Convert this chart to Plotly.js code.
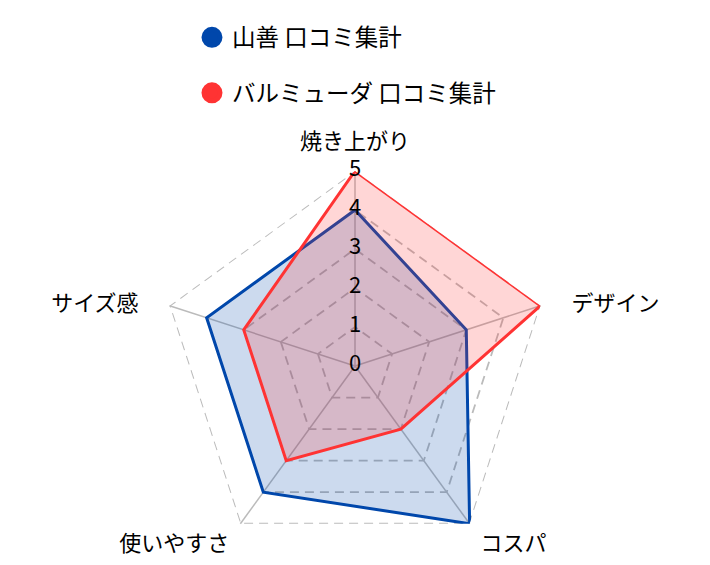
<!DOCTYPE html>
<html>
<head>
<meta charset="utf-8">
<script src="https://cdn.plot.ly/plotly-3.0.1.min.js"></script>
<style>html,body{margin:0;padding:0;background:#fff;}#chart{width:710px;height:565px;}</style>
</head>
<body>
<div id="chart"></div>
<script>
const categories = ["焼き上がり", "デザイン", "コスパ", "使いやすさ", "サイズ感"];
const yamazenValues = [4, 3, 5, 4, 4];
const balmudaValues = [5, 5, 2, 3, 3];
const seriesNames = ["山善 口コミ集計", "バルミューダ 口コミ集計"];
const radialTicks = [0, 1, 2, 3, 4, 5];

const FONT = "Noto Sans CJK JP, DejaVu Sans, sans-serif";
const BLUE = "#0047ab";
const RED = "#ff3333";
const GRID = "#bbbbbb";
const RMAX = radialTicks[radialTicks.length - 1];

// label placement style per category (text side and hidden-marker spacing)
const labelPositions = ["top center", "middle right", "bottom right", "bottom left", "middle left"];
const labelGaps = [24, 48, 16, 16, 48];

function closed(arr) { return arr.concat([arr[0]]); }

const traces = [
  {
    type: "scatterpolar",
    r: closed(categories.map(() => RMAX)),
    theta: closed(categories),
    mode: "lines",
    line: {color: GRID, width: 2, dash: "9px,6px"},
    showlegend: false,
    hoverinfo: "skip",
    cliponaxis: false
  },
  {
    type: "scatterpolar",
    r: closed(yamazenValues),
    theta: closed(categories),
    mode: "lines",
    fill: "toself",
    fillcolor: "rgba(0,71,171,0.2)",
    line: {color: BLUE, width: 3},
    showlegend: false,
    hoverinfo: "skip",
    cliponaxis: false
  },
  {
    type: "scatterpolar",
    r: closed(balmudaValues),
    theta: closed(categories),
    mode: "lines",
    fill: "toself",
    fillcolor: "rgba(255,51,51,0.2)",
    line: {color: RED, width: 3},
    showlegend: false,
    hoverinfo: "skip",
    cliponaxis: false
  },
  {
    type: "scatterpolar",
    r: radialTicks.map(v => Math.max(v, RMAX * 1e-3)),
    theta: radialTicks.map(() => categories[0]),
    mode: "text",
    text: radialTicks.map(String),
    textposition: "middle center",
    textfont: {family: FONT, size: 22, color: "#000"},
    showlegend: false,
    hoverinfo: "skip",
    cliponaxis: false
  },
  {
    type: "scatterpolar",
    r: categories.map(() => RMAX),
    theta: categories,
    mode: "markers+text",
    text: categories,
    textposition: labelPositions,
    textfont: {family: FONT, size: 22, color: "#000"},
    marker: {size: labelGaps, opacity: 0, color: "#fff"},
    showlegend: false,
    hoverinfo: "skip",
    cliponaxis: false
  },
  {
    type: "scatterpolar",
    r: [null], theta: [null],
    mode: "markers",
    name: seriesNames[0],
    legendgroup: "a",
    marker: {color: BLUE, size: 16, line: {color: BLUE, width: 5}}
  },
  {
    type: "scatterpolar",
    r: [null], theta: [null],
    mode: "markers",
    name: seriesNames[1],
    legendgroup: "b",
    marker: {color: RED, size: 16, line: {color: RED, width: 5}}
  }
];

const layout = {
  width: 710,
  height: 565,
  margin: {l: 0, r: 0, t: 0, b: 0},
  paper_bgcolor: "#fff",
  font: {family: FONT, size: 22, color: "#000"},
  showlegend: true,
  legend: {
    x: 0.2704, xanchor: "left",
    y: 0.9725, yanchor: "top",
    font: {family: FONT, size: 23.5, color: "#000"},
    tracegroupgap: 22,
    traceorder: "grouped",
    bgcolor: "rgba(0,0,0,0)"
  },
  polar: {
    domain: {x: [0.22535, 0.77465], y: [0.00708, 0.69735]},
    gridshape: "linear",
    bgcolor: "rgba(0,0,0,0)",
    radialaxis: {
      range: [0, RMAX],
      tickvals: radialTicks.slice(1),
      showticklabels: false,
      ticks: "",
      showline: false,
      showgrid: true,
      gridcolor: GRID,
      gridwidth: 1.8,
      griddash: "9px,6px",
      angle: 90
    },
    angularaxis: {
      direction: "clockwise",
      rotation: 90,
      showline: false,
      showgrid: true,
      gridcolor: GRID,
      gridwidth: 1.5,
      ticks: "",
      showticklabels: false
    }
  }
};

Plotly.newPlot("chart", traces, layout, {displayModeBar: false, staticPlot: true});
</script>
</body>
</html>
